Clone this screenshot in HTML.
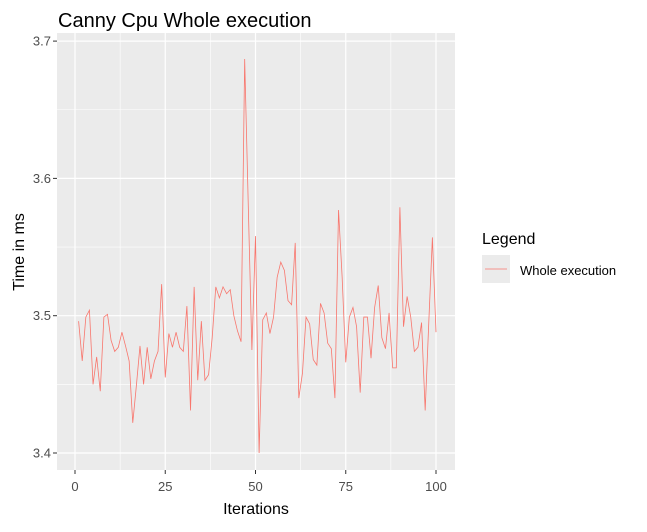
<!DOCTYPE html>
<html><head><meta charset="utf-8"><style>
body{margin:0;background:#fff;font-family:"Liberation Sans",Arial,sans-serif}
svg text{font-family:"Liberation Sans",Arial,sans-serif}
</style></head><body>
<svg id="c" width="647" height="527" xmlns="http://www.w3.org/2000/svg">
<text x="58" y="27" font-size="20" fill="#000">Canny Cpu Whole execution</text>
<rect x="57" y="33" width="398" height="437" fill="#ebebeb"/>
<g id="grid"></g>
<g id="axes"></g>
<path id="line" fill="none" stroke="#f8766d" stroke-width="0.8"/>
<text x="256" y="514" font-size="16" text-anchor="middle" fill="#000">Iterations</text>
<text transform="translate(24,252) rotate(-90)" font-size="16" text-anchor="middle" fill="#000">Time in ms</text>
<g>
<text x="482" y="244" font-size="16" fill="#000">Legend</text>
<rect x="482" y="255" width="28" height="28" fill="#ebebeb"/>
<line x1="485" y1="269" x2="507" y2="269" stroke="#f8766d" stroke-width="0.8"/>
<text x="520" y="275" font-size="13" fill="#000">Whole execution</text>
</g>
</svg>
<script>
const iterations=[];for(let i=1;i<=100;i++)iterations.push(i);
const times=[3.496,3.467,3.499,3.504,3.450,3.470,3.445,3.499,3.501,3.482,3.474,3.477,3.488,3.478,3.467,3.422,3.449,3.478,3.450,3.477,3.454,3.467,3.474,3.523,3.455,3.487,3.477,3.488,3.477,3.474,3.507,3.431,3.521,3.453,3.496,3.453,3.457,3.484,3.521,3.513,3.521,3.516,3.519,3.500,3.489,3.481,3.687,3.580,3.475,3.558,3.400,3.497,3.502,3.487,3.499,3.528,3.539,3.533,3.511,3.508,3.553,3.440,3.458,3.499,3.494,3.468,3.464,3.509,3.502,3.480,3.476,3.440,3.577,3.528,3.466,3.499,3.506,3.492,3.444,3.499,3.499,3.469,3.506,3.522,3.484,3.476,3.502,3.462,3.462,3.579,3.492,3.514,3.499,3.474,3.477,3.495,3.431,3.495,3.557,3.488];
const xTicks=[0,25,50,75,100];
const yTicks=[3.4,3.5,3.6,3.7];
const X=v=>75+v*3.61;
const Y=v=>453-(v-3.4)*1373;
const NS="http://www.w3.org/2000/svg";
const grid=document.getElementById('grid'),axes=document.getElementById('axes');
function ln(p,x1,y1,x2,y2,s,w){const l=document.createElementNS(NS,'line');l.setAttribute('x1',x1);l.setAttribute('y1',y1);l.setAttribute('x2',x2);l.setAttribute('y2',y2);l.setAttribute('stroke',s);l.setAttribute('stroke-width',w);p.appendChild(l);return l;}
function tx(p,x,y,t,a){const e=document.createElementNS(NS,'text');e.setAttribute('x',x);e.setAttribute('y',y);e.setAttribute('font-size','13');e.setAttribute('fill','#4d4d4d');e.setAttribute('text-anchor',a);e.textContent=t;p.appendChild(e);return e;}
for(let i=0;i<xTicks.length-1;i++){const m=(xTicks[i]+xTicks[i+1])/2;const g=ln(grid,X(m),33,X(m),470,'#fff',0.6);

}
for(let i=0;i<yTicks.length-1;i++){const m=(yTicks[i]+yTicks[i+1])/2;const g=ln(grid,57,Y(m),455,Y(m),'#fff',0.6);

}
xTicks.forEach(v=>{const g=ln(grid,X(v),33,X(v),470,'#fff',1.2);


const t=ln(axes,X(v),470,X(v),474,'#333',1);


const l=tx(axes,X(v),491,String(v),'middle');

});
yTicks.forEach(v=>{const g=ln(grid,57,Y(v),455,Y(v),'#fff',1.2);


const t=ln(axes,53,Y(v),57,Y(v),'#333',1);


const l=tx(axes,51,Y(v)+4.5,v.toFixed(1),'end');

});
document.getElementById('line').setAttribute('d',times.map((v,i)=>(i?'L':'M')+X(iterations[i]).toFixed(2)+','+Y(v).toFixed(2)).join(''));
</script>
</body></html>
